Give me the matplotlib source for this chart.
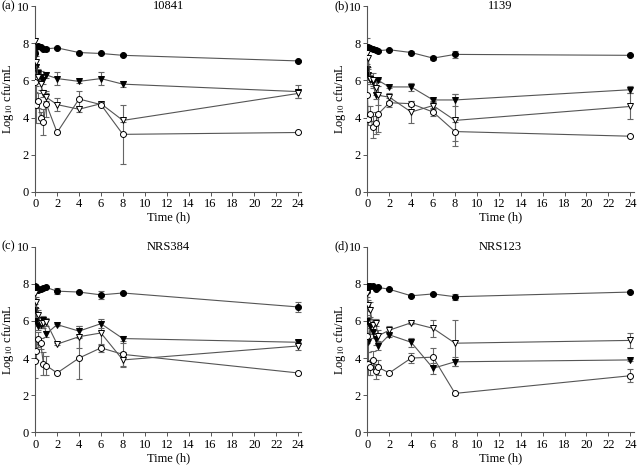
import numpy as np
import matplotlib
matplotlib.use("Agg")
import matplotlib.pyplot as plt

# ---------- data ----------
t = [0, 0.083, 0.25, 0.5, 0.75, 1, 2, 4, 6, 8, 24]

panel_labels = ["(a)", "(b)", "(c)", "(d)"]
strains = ["10841", "1139", "NRS384", "NRS123"]

# (a) 10841
a_fc = [7.5, 7.8, 7.85, 7.8, 7.7, 7.7, 7.75, 7.5, 7.45, 7.35, 7.05]
a_ft = [7.3, 6.7, 6.4, 6.2, 6.0, 6.3, 6.1, 5.95, 6.1, 5.8, 5.4]
a_ot = [8.1, 7.0, 6.2, 5.8, 5.3, 5.1, 4.7, 4.45, 4.75, 3.85, 5.3]
a_oc = [5.9, 4.7, 4.9, 4.0, 3.75, 4.75, 3.2, 5.0, 4.7, 3.1, 3.2]
a_fc_err = [0.1, 0.05, 0.05, 0.05, 0.05, 0.1, 0.05, 0.05, 0.05, 0.05, 0.05]
a_ft_err = [0.2, 0.2, 0.2, 0.3, 0.2, 0.15, 0.35, 0.1, 0.35, 0.15, 0.35]
a_ot_err = [0.2, 0.3, 0.2, 0.3, 0.2, 0.2, 0.35, 0.15, 0.1, 0.1, 0.25]
a_oc_err = [0.5, 1.0, 0.4, 0.3, 0.7, 0.7, 0.05, 0.45, 0.1, 1.6, 0.05]

# (b) 1139
b_fc = [7.7, 7.8, 7.75, 7.7, 7.65, 7.6, 7.65, 7.5, 7.2, 7.4, 7.35]
b_ft = [6.6, 6.3, 6.1, 5.9, 5.2, 6.0, 5.65, 5.65, 4.95, 4.95, 5.5]
b_ot = [7.5, 7.2, 6.1, 6.0, 5.6, 5.2, 5.1, 4.3, 4.65, 3.85, 4.6]
b_oc = [5.2, 3.9, 4.2, 3.5, 3.7, 4.2, 4.8, 4.75, 4.3, 3.25, 3.0]
b_fc_err = [0.1, 0.1, 0.05, 0.05, 0.05, 0.05, 0.05, 0.1, 0.1, 0.2, 0.05]
b_ft_err = [0.3, 0.3, 0.2, 0.2, 0.2, 0.1, 0.05, 0.2, 0.05, 0.3, 0.2]
b_ot_err = [0.8, 0.5, 0.3, 0.4, 0.4, 0.5, 0.2, 0.6, 0.2, 1.4, 0.7]
b_oc_err = [0.6, 0.3, 0.4, 0.6, 0.6, 1.0, 0.25, 0.15, 0.2, 0.5, 0.05]

# (c) NRS384
c_fc = [7.9, 7.8, 7.65, 7.7, 7.75, 7.8, 7.6, 7.55, 7.4, 7.5, 6.75]
c_ft = [6.6, 6.0, 5.7, 5.8, 6.05, 5.3, 5.8, 5.45, 5.85, 5.05, 4.85]
c_ot = [7.5, 7.0, 6.3, 5.9, 5.9, 5.95, 4.75, 5.15, 5.35, 3.9, 4.65]
c_oc = [3.85, 4.4, 5.0, 4.8, 3.7, 3.6, 3.2, 4.0, 4.55, 4.2, 3.2]
c_fc_err = [0.1, 0.05, 0.05, 0.05, 0.05, 0.05, 0.15, 0.05, 0.2, 0.05, 0.25]
c_ft_err = [0.3, 0.3, 0.2, 0.2, 0.2, 0.15, 0.05, 0.3, 0.25, 0.15, 0.1]
c_ot_err = [0.2, 0.3, 0.3, 0.3, 0.3, 0.2, 0.05, 0.6, 0.65, 0.4, 0.2]
c_oc_err = [0.9, 0.5, 0.4, 0.3, 0.6, 0.5, 0.05, 1.1, 0.2, 0.6, 0.05]

# (d) NRS123
d_fc = [7.6, 7.9, 7.85, 7.9, 7.7, 7.8, 7.7, 7.35, 7.45, 7.3, 7.55]
d_ft = [6.0, 4.85, 5.7, 5.4, 5.0, 4.65, 5.25, 4.85, 3.45, 3.8, 3.9]
d_ot = [7.5, 6.85, 6.6, 5.8, 5.9, 5.2, 5.5, 5.9, 5.6, 4.8, 4.95]
d_oc = [5.2, 3.7, 3.5, 3.9, 3.3, 3.5, 3.2, 4.0, 4.05, 2.1, 3.05]
d_fc_err = [0.1, 0.05, 0.05, 0.05, 0.05, 0.05, 0.05, 0.05, 0.05, 0.15, 0.05]
d_ft_err = [0.3, 0.5, 0.4, 0.3, 0.3, 0.2, 0.1, 0.25, 0.3, 0.25, 0.05]
d_ot_err = [0.2, 0.3, 0.4, 0.3, 0.2, 0.3, 0.2, 0.05, 0.45, 1.25, 0.4]
d_oc_err = [0.4, 0.6, 0.4, 0.5, 0.4, 0.4, 0.05, 0.25, 0.5, 0.1, 0.35]

means = [
    [a_fc, a_ft, a_ot, a_oc],
    [b_fc, b_ft, b_ot, b_oc],
    [c_fc, c_ft, c_ot, c_oc],
    [d_fc, d_ft, d_ot, d_oc],
]
errs = [
    [a_fc_err, a_ft_err, a_ot_err, a_oc_err],
    [b_fc_err, b_ft_err, b_ot_err, b_oc_err],
    [c_fc_err, c_ft_err, c_ot_err, c_oc_err],
    [d_fc_err, d_ft_err, d_ot_err, d_oc_err],
]

# marker style per series: filled circle, filled tri, open tri, open circle
styles = [("o", "black"), ("v", "black"), ("v", "white"), ("o", "white")]

plt.rcParams["font.family"] = ["Liberation Serif", "DejaVu Serif"]
plt.rcParams["mathtext.fontset"] = "stix"

fig = plt.figure(figsize=(6.4, 4.66), dpi=100)
# axes rectangles in figure fraction
rects = [
    [0.055, 0.588, 0.416, 0.399],
    [0.574, 0.588, 0.416, 0.399],
    [0.055, 0.072, 0.416, 0.399],
    [0.574, 0.072, 0.416, 0.399],
]

for i in range(4):
    ax = fig.add_axes(rects[i])
    for (mk, fc), y, e in zip(styles, means[i], errs[i]):
        ax.errorbar(t, y, yerr=e, fmt="none", ecolor="#666666", elinewidth=0.8,
                    capsize=2.5, capthick=0.8, zorder=2)
        ax.plot(t, y, color="#555555", lw=0.8, marker=mk, markersize=4.3,
                markerfacecolor=fc, markeredgecolor="black", markeredgewidth=0.7,
                zorder=3)
    ax.set_xlim(0, 24.3)
    ax.set_ylim(0, 10)
    ax.set_xticks(np.arange(0, 25, 2))
    ax.set_yticks(np.arange(0, 11, 2))
    for s in ["top", "right"]:
        ax.spines[s].set_visible(False)
    for s in ["left", "bottom"]:
        ax.spines[s].set_color("#555555")
        ax.spines[s].set_linewidth(0.8)
    ax.tick_params(direction="out", length=3, width=0.7, colors="#555555",
                   labelcolor="black", labelsize=9, pad=1.5)
    ax.set_xlabel("Time (h)", fontsize=9, labelpad=1)
    ax.set_ylabel(r"Log$_{10}$ cfu/mL", fontsize=9)
    ax.yaxis.set_label_coords(-0.072, 0.5)
    ax.text(0.5, 1.0, strains[i], transform=ax.transAxes, ha="center",
            va="center", fontsize=9)
    ax.text(-0.125, 1.0, panel_labels[i], transform=ax.transAxes, ha="left",
            va="center", fontsize=9)

fig.savefig("out.png", dpi=100)
